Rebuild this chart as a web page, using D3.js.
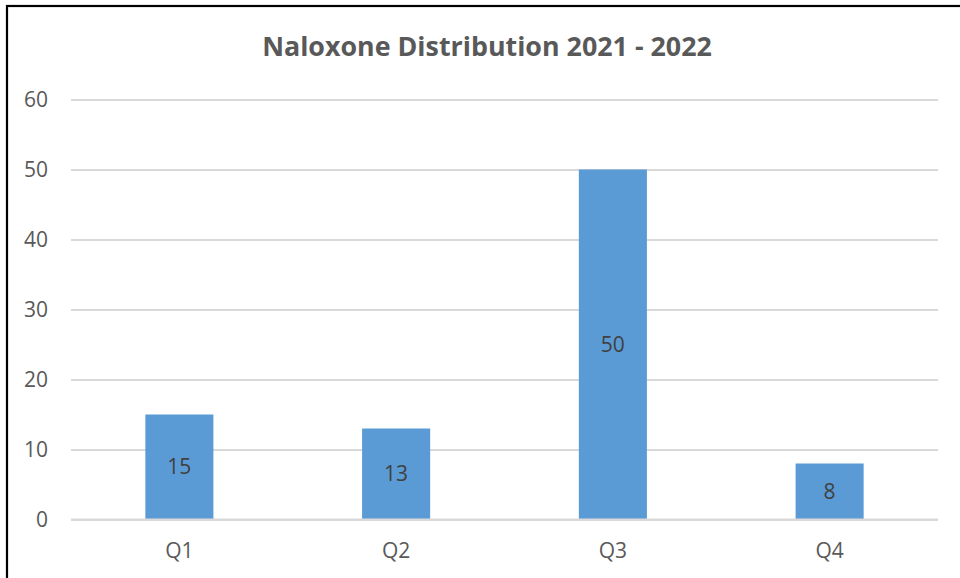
<!DOCTYPE html>
<html>
<head>
<meta charset="utf-8">
<script src="https://cdn.jsdelivr.net/npm/d3@7"></script>
<style>
  body { margin: 0; background: #fff; }
  svg { display: block; font-family: "Open Sans", "Liberation Sans", sans-serif; }
</style>
</head>
<body>
<svg id="chart" width="960" height="578"></svg>
<script>
// Chart data
const quarters = ["Q1", "Q2", "Q3", "Q4"];
const kits = [15, 13, 50, 8];
const yTicks = [0, 10, 20, 30, 40, 50, 60];
const chartTitle = "Naloxone Distribution 2021 - 2022";

const margin = { top: 99.5, right: 22, bottom: 58.5, left: 71 },
      width = 960 - margin.left - margin.right,
      height = 578 - margin.top - margin.bottom;

const labelSize = 21;

const svg = d3.select("#chart");

// outer frame (only left/top edges visible in the picture)
svg.append("rect")
   .attr("x", 7).attr("y", 6)
   .attr("width", 980).attr("height", 600)
   .attr("fill", "none")
   .attr("stroke", "#000")
   .attr("stroke-width", 2.2);

// Title
const title = svg.append("text")
   .attr("x", 487)
   .attr("y", 56)
   .attr("text-anchor", "middle")
   .attr("font-weight", "bold")
   .attr("font-size", 24)
   .attr("fill", "#595959")
   .text(chartTitle);
// fit title width to the reference (~450px)
const tw = title.node().getComputedTextLength();
title.attr("font-size", 24 * 450 / tw);

const g = svg.append("g")
   .attr("transform", `translate(${margin.left},${margin.top})`);

// Scales
const x = d3.scaleBand()
   .domain(quarters)
   .range([0, width])
   .paddingInner(0.686)
   .paddingOuter(0.343);

const y = d3.scaleLinear()
   .domain([0, 60])
   .range([height, 0]);

// Gridlines
g.append("g")
   .call(d3.axisLeft(y).tickValues(yTicks).tickSize(-width).tickFormat(""))
   .call(a => a.select(".domain").remove())
   .call(a => a.selectAll("line").attr("stroke", "#d9d9d9").attr("stroke-width", 2));

// Y axis labels
g.append("g")
   .call(d3.axisLeft(y).tickValues(yTicks).tickSize(0).tickPadding(23))
   .call(a => a.select(".domain").remove())
   .call(a => a.selectAll("text")
      .attr("font-size", labelSize)
      .attr("fill", "#595959")
      .attr("font-family", "Open Sans, sans-serif"));

// Bars
g.selectAll(".bar")
   .data(quarters.map((q, i) => ({ q, v: kits[i] })))
   .enter().append("rect")
   .attr("class", "bar")
   .attr("x", d => x(d.q))
   .attr("y", d => y(d.v))
   .attr("width", x.bandwidth())
   .attr("height", d => height - y(d.v))
   .attr("fill", "#5b9bd5");

// redraw zero line on top of bars
g.append("line")
   .attr("x1", 0).attr("x2", width)
   .attr("y1", y(0)).attr("y2", y(0))
   .attr("stroke", "#d9d9d9")
   .attr("stroke-width", 2);

// Data labels
g.selectAll(".lbl")
   .data(quarters.map((q, i) => ({ q, v: kits[i] })))
   .enter().append("text")
   .attr("class", "lbl")
   .attr("x", d => x(d.q) + x.bandwidth() / 2)
   .attr("y", d => (y(d.v) + y(0)) / 2)
   .attr("dy", "0.35em")
   .attr("text-anchor", "middle")
   .attr("font-size", labelSize)
   .attr("fill", "#404040")
   .text(d => d.v);

// X axis labels
g.append("g")
   .attr("transform", `translate(0,${height})`)
   .call(d3.axisBottom(x).tickSize(0).tickPadding(24))
   .call(a => a.select(".domain").remove())
   .call(a => a.selectAll("text")
      .attr("font-size", labelSize)
      .attr("fill", "#595959")
      .attr("font-family", "Open Sans, sans-serif"));
</script>
</body>
</html>
